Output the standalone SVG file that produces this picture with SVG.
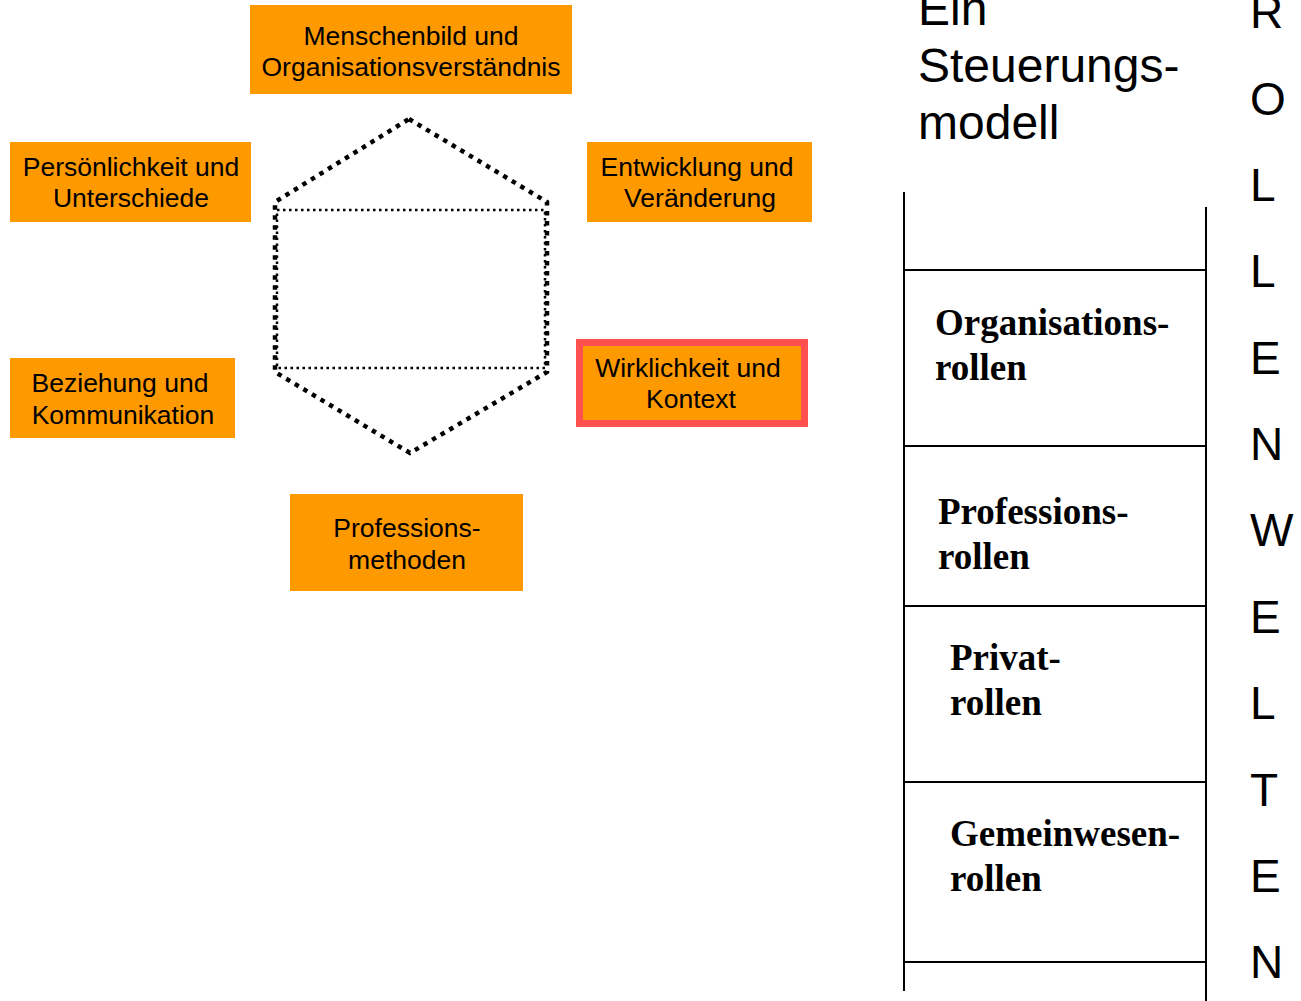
<svg xmlns="http://www.w3.org/2000/svg" width="1301" height="1001" viewBox="0 0 1301 1001">
  <style>
    .box { fill: #FF9900; }
    .lbl { font-family: "Liberation Sans", Arial, sans-serif; font-size: 26.5px; fill: #000; text-anchor: middle; }
    .title { font-family: "Liberation Sans", Arial, sans-serif; font-size: 48px; fill: #000; }
    .letter { font-family: "Liberation Sans", Arial, sans-serif; font-size: 46px; fill: #000; }
    .role { font-family: "Liberation Serif", "Times New Roman", serif; font-size: 37px; font-weight: bold; fill: #000; }
    .rule { stroke: #000; stroke-width: 2; fill: none; }
    .hexa { stroke: #000; stroke-width: 4.5; stroke-dasharray: 4.5 5.5; fill: none; }
    .inner { stroke: #000; stroke-width: 2.5; stroke-dasharray: 2.5 3.5; fill: none; }
  </style>

  <!-- central dotted hexagon with inner frame -->
  <g id="hexagon">
    <polygon class="hexa" points="409,119 547,202 547,372 410,453 275,372 275,202"/>
    <rect class="inner" x="277" y="210" width="268" height="158"/>
  </g>

  <g id="node-menschenbild">
    <rect class="box" x="250" y="5" width="322" height="89"/>
    <text class="lbl" x="411" y="45">Menschenbild und</text>
    <text class="lbl" x="411" y="76">Organisationsverständnis</text>
  </g>

  <g id="node-persoenlichkeit">
    <rect class="box" x="10" y="142" width="241" height="80"/>
    <text class="lbl" x="131" y="176">Persönlichkeit und</text>
    <text class="lbl" x="131" y="207">Unterschiede</text>
  </g>

  <g id="node-entwicklung">
    <rect class="box" x="587" y="142" width="225" height="80"/>
    <text class="lbl" x="697" y="176">Entwicklung und</text>
    <text class="lbl" x="700" y="207">Veränderung</text>
  </g>

  <g id="node-beziehung">
    <rect class="box" x="10" y="358" width="225" height="80"/>
    <text class="lbl" x="120" y="392">Beziehung und</text>
    <text class="lbl" x="123" y="424">Kommunikation</text>
  </g>

  <g id="node-wirklichkeit">
    <rect class="box" x="579.5" y="342.5" width="225" height="81" stroke="#FF5050" stroke-width="7"/>
    <text class="lbl" x="688" y="377">Wirklichkeit und</text>
    <text class="lbl" x="691" y="408">Kontext</text>
  </g>

  <g id="node-professionsmethoden">
    <rect class="box" x="290" y="494" width="233" height="97"/>
    <text class="lbl" x="407" y="537">Professions-</text>
    <text class="lbl" x="407" y="569">methoden</text>
  </g>

  <!-- title -->
  <g id="title">
    <text class="title" x="918" y="25">Ein</text>
    <text class="title" x="918" y="82">Steuerungs-</text>
    <text class="title" x="918" y="139">modell</text>
  </g>

  <!-- role table -->
  <g id="connectors">
    <line class="rule" x1="904" y1="192" x2="904" y2="991"/>
    <line class="rule" x1="1206" y1="207" x2="1206" y2="1001"/>
    <line class="rule" x1="904" y1="270" x2="1206" y2="270"/>
    <line class="rule" x1="904" y1="446" x2="1206" y2="446"/>
    <line class="rule" x1="904" y1="606" x2="1206" y2="606"/>
    <line class="rule" x1="904" y1="782" x2="1206" y2="782"/>
    <line class="rule" x1="904" y1="962" x2="1206" y2="962"/>
  </g>

  <g id="role-organisation">
    <text class="role" x="935" y="335">Organisations-</text>
    <text class="role" x="935" y="380">rollen</text>
  </g>
  <g id="role-profession">
    <text class="role" x="938" y="524">Professions-</text>
    <text class="role" x="938" y="569">rollen</text>
  </g>
  <g id="role-privat">
    <text class="role" x="950" y="670">Privat-</text>
    <text class="role" x="950" y="715">rollen</text>
  </g>
  <g id="role-gemeinwesen">
    <text class="role" x="950" y="846">Gemeinwesen-</text>
    <text class="role" x="950" y="891">rollen</text>
  </g>

  <!-- vertical lettering -->
  <g id="rollenwelten">
    <text class="letter" x="1250" y="28">R</text>
    <text class="letter" x="1250" y="115">O</text>
    <text class="letter" x="1250" y="201">L</text>
    <text class="letter" x="1250" y="287">L</text>
    <text class="letter" x="1250" y="374">E</text>
    <text class="letter" x="1250" y="460">N</text>
    <text class="letter" x="1250" y="546">W</text>
    <text class="letter" x="1250" y="633">E</text>
    <text class="letter" x="1250" y="719">L</text>
    <text class="letter" x="1250" y="806">T</text>
    <text class="letter" x="1250" y="892">E</text>
    <text class="letter" x="1250" y="978">N</text>
  </g>
</svg>
